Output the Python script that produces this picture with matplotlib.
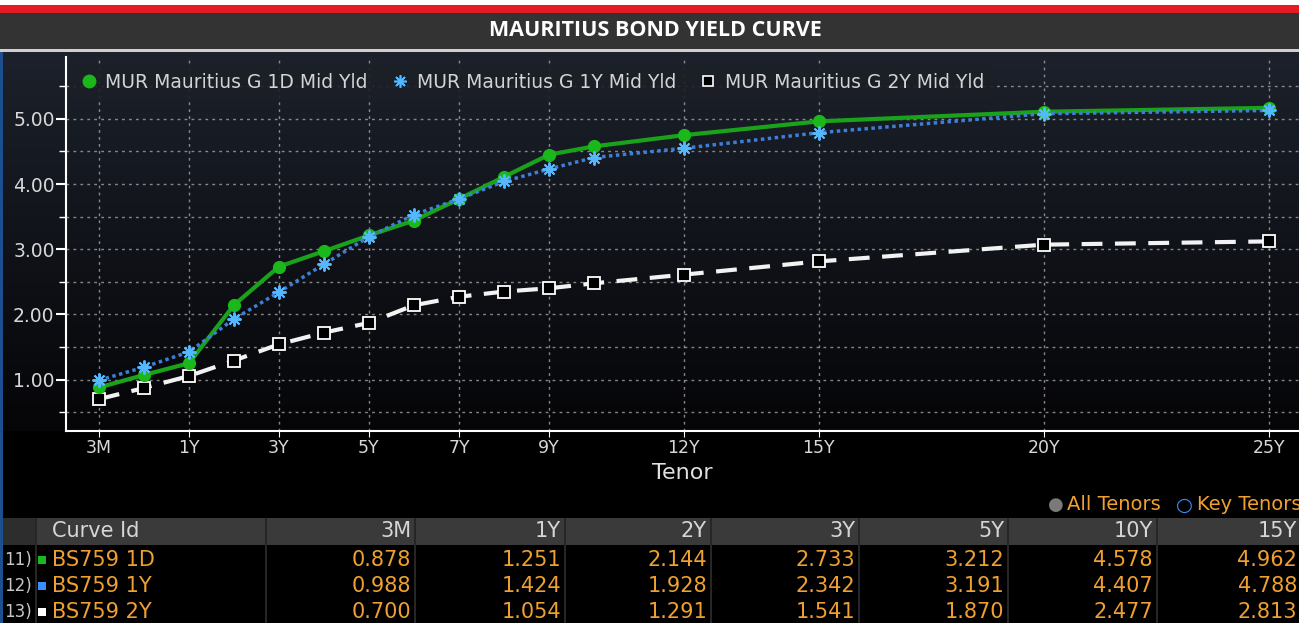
import matplotlib.pyplot as plt
import numpy as np
from matplotlib.lines import Line2D
from matplotlib.patches import Rectangle

# Tenor axis (Bloomberg spaces 3M/6M one slot each, then years)
tenors = ['3M', '6M', '1Y', '2Y', '3Y', '4Y', '5Y', '6Y', '7Y', '8Y', '9Y', '10Y', '12Y', '15Y', '20Y', '25Y']
tenor_x = [-1, 0, 1, 2, 3, 4, 5, 6, 7, 8, 9, 10, 12, 15, 20, 25]
tick_labels = ['3M', '1Y', '3Y', '5Y', '7Y', '9Y', '12Y', '15Y', '20Y', '25Y']

# Yields (%) per curve
yld_1d = [0.878, 1.07, 1.251, 2.144, 2.733, 2.97, 3.212, 3.44, 3.77, 4.11, 4.45, 4.578, 4.75, 4.962, 5.11, 5.17]
yld_1y = [0.988, 1.19, 1.424, 1.928, 2.342, 2.77, 3.191, 3.53, 3.77, 4.04, 4.23, 4.407, 4.55, 4.788, 5.08, 5.13]
yld_2y = [0.700, 0.87, 1.054, 1.291, 1.541, 1.72, 1.870, 2.14, 2.27, 2.35, 2.40, 2.477, 2.61, 2.813, 3.07, 3.12]

series_names = ['MUR Mauritius G 1D Mid Yld', 'MUR Mauritius G 1Y Mid Yld', 'MUR Mauritius G 2Y Mid Yld']
curve_ids = ['BS759 1D', 'BS759 1Y', 'BS759 2Y']
row_nums = ['11)', '12)', '13)']
table_cols = ['3M', '1Y', '2Y', '3Y', '5Y', '10Y', '15Y']

W, H = 1299, 623
fig = plt.figure(figsize=(W / 100, H / 100), dpi=100, facecolor='black')

def fx(px):
    return px / W

def fy(py):
    return 1 - py / H

def frect(x0, y0, x1, y1, color, z=0):
    fig.patches.append(Rectangle((fx(x0), fy(y1)), fx(x1 - x0), (y1 - y0) / H,
                                 transform=fig.transFigure, facecolor=color,
                                 edgecolor='none', zorder=z))

# header strip
frect(0, 0, W, 5, 'white')
frect(0, 5, W, 13, '#e31b23')
frect(0, 13, W, 49, '#333333')
frect(0, 49, W, 52, '#cfcfcf')
frect(0, 52, 3, H, '#1d4f90')
fig.text(fx(655), fy(31), 'MAURITIUS BOND YIELD CURVE', color='white',
         fontsize=15.5, fontweight='bold', family='Open Sans', ha='center', va='center')

# gradient panel behind the plot
bg = fig.add_axes([fx(3), fy(431), fx(W - 3), (431 - 52) / H], zorder=0)
grad = np.linspace(0, 1, 256).reshape(-1, 1)
top_c = np.array([0.11, 0.13, 0.17])
bot_c = np.array([0.02, 0.02, 0.03])
img = top_c[None, None, :] * (1 - grad[:, :, None]) + bot_c[None, None, :] * grad[:, :, None]
bg.imshow(img, aspect='auto', extent=[0, 1, 0, 1])
bg.axis('off')

ax = fig.add_axes([fx(65.7), fy(431), fx(W - 65.7), (431 - 57) / H], zorder=1)
ax.patch.set_alpha(0)

ax.plot(tenor_x, yld_2y, color='#f2f2f2', lw=3, ls=(0, (5, 3)), marker='s', ms=8,
        mfc='black', mec='white', mew=1.3, zorder=3)
ax.plot(tenor_x, yld_1d, color='#1aa31a', lw=3, marker='o', ms=8.5,
        mfc='#1ab81a', mec='#1ab81a', zorder=4)
ax.plot(tenor_x, yld_1y, color='#3d7fd6', lw=2.5, ls=(0, (1, 1)), marker=(8, 2, 0), ms=10,
        mec='#55b8ff', mew=1.4, zorder=5)

ax.set_xlim(-1.74, 25.67)
ax.set_ylim(0.21, 5.95)
ax.set_xticks([tenor_x[tenors.index(t)] for t in tick_labels])
ax.set_xticklabels(tick_labels)
ax.set_yticks([1, 2, 3, 4, 5])
ax.set_yticklabels(['1.00', '2.00', '3.00', '4.00', '5.00'])
ax.set_yticks(np.arange(0.5, 6.0, 1.0), minor=True)
ax.tick_params(axis='y', which='major', colors='white', labelcolor='#d8d8d8',
               labelsize=13.5, length=7, width=1.5, pad=1)
ax.tick_params(axis='y', which='minor', colors='white', length=5, width=1)
ax.tick_params(axis='x', colors='white', labelcolor='#d8d8d8', labelsize=12.5, length=4, pad=2)
ax.grid(True, which='both', axis='y', color='#a5a5a5', ls=(0, (2, 3)), lw=1, alpha=0.8)
ax.grid(True, which='major', axis='x', color='#a5a5a5', ls=(0, (2, 3)), lw=1, alpha=0.8)
for s in ['top', 'right']:
    ax.spines[s].set_visible(False)
for s in ['left', 'bottom']:
    ax.spines[s].set_color('white')
    ax.spines[s].set_linewidth(1.5)
ax.set_xlabel('Tenor', color='#e0e0e0', fontsize=16, labelpad=4)

handles = [
    Line2D([], [], ls='none', marker='o', ms=9, mfc='#1ab81a', mec='#1ab81a'),
    Line2D([], [], ls='none', marker=(8, 2, 0), ms=9, mec='#55b8ff', mew=1.2),
    Line2D([], [], ls='none', marker='s', ms=7, mfc='black', mec='white', mew=1.2),
]
leg = ax.legend(handles, series_names, ncol=3, loc='upper left',
                bbox_to_anchor=(-0.002, 1.005), frameon=True,
                facecolor='#1c1f26', edgecolor='none', framealpha=0.9,
                fontsize=13.5, labelcolor='#d4d4d4', handlelength=0.8,
                handletextpad=0.5, columnspacing=1.3, borderpad=0.45)
leg.set_zorder(10)

# tenor selector
fig.text(fx(1056), fy(505), '\u25cf', color='#7a7a7a', fontsize=13, ha='center', va='center')
fig.text(fx(1067), fy(505), 'All Tenors', color='#f0a030', fontsize=14, ha='left', va='center')
fig.text(fx(1184), fy(505), '\u25cb', color='#3d8cff', fontsize=14, fontweight='bold',
         ha='center', va='center')
fig.text(fx(1197), fy(505), 'Key Tenors', color='#f0a030', fontsize=14, ha='left', va='center')

# table
col_right = [411, 561, 707, 855, 1004, 1153, 1297]
frect(3, 518, 35, 545, '#2d2d2d', z=1)
frect(35, 518, W, 545, '#3a3a3a', z=1)
for xs in [35, 265] + [c + 3 for c in col_right[:-1]]:
    frect(xs, 518, xs + 2, H, '#262626', z=2)
fig.text(fx(52), fy(531), 'Curve Id', color='#d6d6d6', fontsize=15, ha='left', va='center', zorder=3)
for c, xr in zip(table_cols, col_right):
    fig.text(fx(xr), fy(531), c, color='#d6d6d6', fontsize=15, ha='right', va='center', zorder=3)

sq_colors = ['#1ab81a', '#3d8cff', 'white']
rows = [yld_1d, yld_1y, yld_2y]
for i, (num, cid, sc, vals) in enumerate(zip(row_nums, curve_ids, sq_colors, rows)):
    yc = 560 + i * 26
    fig.text(fx(4), fy(yc), num, color='#c8c8c8', fontsize=12, ha='left', va='center')
    frect(38, yc - 4, 46, yc + 4, sc, z=3)
    fig.text(fx(52), fy(yc), cid, color='#f0a030', fontsize=15, ha='left', va='center')
    for c, xr in zip(table_cols, col_right):
        v = vals[tenors.index(c)]
        fig.text(fx(xr), fy(yc), f'{v:.3f}', color='#f0a030', fontsize=15,
                 ha='right', va='center')

plt.savefig('out.png', dpi=100, facecolor='black')
